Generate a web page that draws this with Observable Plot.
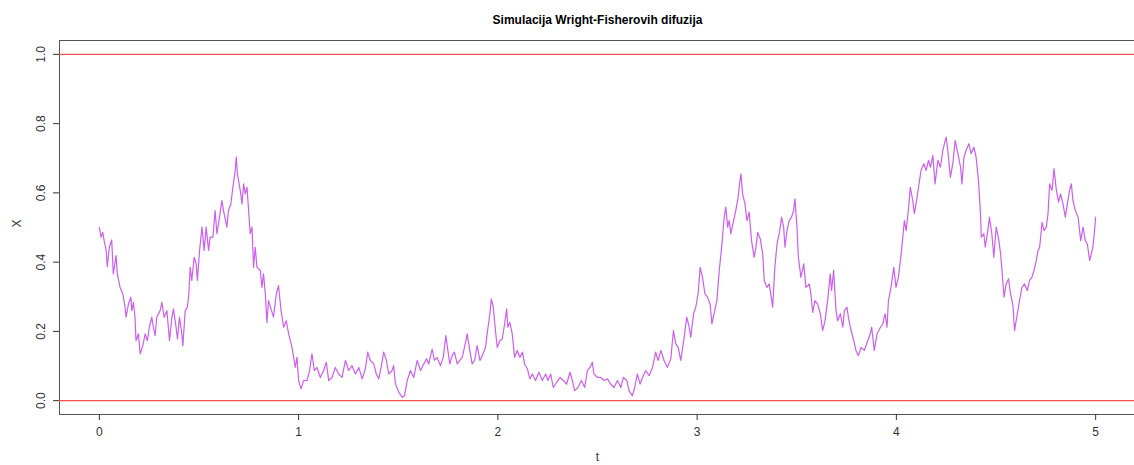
<!DOCTYPE html>
<html><head><meta charset="utf-8">
<script src="https://cdn.jsdelivr.net/npm/d3@7"></script>
<script src="https://cdn.jsdelivr.net/npm/@observablehq/plot@0.6"></script>
<style>body{margin:0;background:#fff} svg{display:block}</style>
</head><body><div id="chart"></div>
<script>
const title = "Simulacija Wright-Fisherovih difuzija";
const xLabel = "t";
const yLabel = "X";
const tTicks = [0, 1, 2, 3, 4, 5];
const xTicks = [0, 0.2, 0.4, 0.6, 0.8, 1.0];
const boundaries = [0, 1];

const tValues = [
0,0.0085,0.017,0.024,0.034,0.040,0.050,0.062,0.070,0.084,0.090,0.104,0.118,0.129,0.134,0.146,0.158,0.163,0.171,0.179,
0.184,0.196,0.205,0.218,0.230,0.241,0.251,0.263,0.271,0.280,0.288,0.305,0.314,0.325,0.339,0.352,0.364,0.372,0.385,0.392,
0.402,0.414,0.419,0.431,0.442,0.449,0.456,0.464,0.476,0.486,0.492,0.503,0.515,0.526,0.536,0.548,0.556,0.570,0.581,0.590,
0.603,0.615,0.623,0.640,0.648,0.660,0.670,0.682,0.687,0.693,0.707,0.716,0.724,0.732,0.741,0.749,0.757,0.766,0.774,0.782,
0.791,0.808,0.816,0.824,0.833,0.841,0.849,0.874,0.888,0.899,0.912,0.925,0.938,0.950,0.967,0.983,0.992,1.000,1.012,1.025,
1.042,1.055,1.067,1.079,1.092,1.109,1.126,1.139,1.151,1.168,1.184,1.201,1.218,1.235,1.251,1.268,1.285,1.302,1.319,1.335,
1.347,1.360,1.377,1.390,1.402,1.414,1.427,1.441,1.452,1.469,1.477,1.486,1.503,1.520,1.531,1.545,1.561,1.578,1.595,1.612,
1.628,1.642,1.653,1.670,1.682,1.695,1.712,1.726,1.739,1.749,1.759,1.771,1.782,1.796,1.809,1.821,1.838,1.846,1.859,1.871,
1.883,1.896,1.910,1.922,1.938,1.947,1.960,1.967,1.977,1.988,1.997,2.010,2.022,2.034,2.044,2.050,2.060,2.072,2.084,2.097,
2.111,2.123,2.134,2.148,2.161,2.173,2.189,2.206,2.223,2.240,2.251,2.265,2.278,2.295,2.312,2.329,2.345,2.362,2.374,2.385,
2.402,2.419,2.436,2.449,2.462,2.474,2.482,2.500,2.516,2.533,2.550,2.566,2.583,2.600,2.617,2.630,2.647,2.658,2.675,2.687,
2.700,2.714,2.726,2.742,2.759,2.776,2.792,2.804,2.818,2.834,2.851,2.868,2.881,2.893,2.905,2.918,2.935,2.948,2.960,2.968,
2.982,2.993,3.005,3.015,3.027,3.039,3.052,3.065,3.074,3.085,3.099,3.111,3.123,3.136,3.144,3.153,3.161,3.169,3.183,3.194,
3.206,3.213,3.220,3.228,3.240,3.250,3.261,3.273,3.286,3.295,3.304,3.317,3.329,3.337,3.350,3.362,3.379,3.390,3.401,3.412,
3.424,3.434,3.441,3.451,3.462,3.474,3.484,3.491,3.501,3.508,3.521,3.535,3.546,3.563,3.571,3.580,3.591,3.605,3.618,3.630,
3.642,3.655,3.668,3.675,3.685,3.697,3.705,3.719,3.731,3.739,3.752,3.759,3.769,3.786,3.797,3.809,3.823,3.839,3.853,3.869,
3.876,3.889,3.903,3.920,3.932,3.943,3.953,3.960,3.973,3.987,3.998,4.010,4.024,4.032,4.040,4.049,4.060,4.070,4.082,4.090,
4.104,4.116,4.124,4.138,4.149,4.161,4.171,4.183,4.194,4.208,4.221,4.233,4.241,4.250,4.258,4.271,4.283,4.295,4.309,4.322,
4.329,4.339,4.350,4.364,4.375,4.389,4.400,4.412,4.422,4.426,4.439,4.446,4.459,4.467,4.479,4.489,4.501,4.513,4.523,4.530,
4.540,4.551,4.563,4.573,4.585,4.593,4.607,4.618,4.630,4.643,4.657,4.668,4.680,4.693,4.702,4.711,4.719,4.731,4.741,4.752,
4.761,4.769,4.781,4.791,4.803,4.814,4.824,4.836,4.848,4.858,4.869,4.878,4.886,4.898,4.912,4.925,4.937,4.948,4.958,4.970,
4.978,4.986,4.993,5.000
];
const xValues = [
0.500,0.472,0.486,0.462,0.434,0.387,0.443,0.464,0.366,0.419,0.367,0.327,0.308,0.270,0.241,0.279,0.299,0.260,0.284,0.241,
0.173,0.193,0.135,0.159,0.193,0.173,0.212,0.241,0.212,0.188,0.241,0.260,0.284,0.241,0.260,0.173,0.241,0.265,0.212,0.178,
0.241,0.193,0.159,0.260,0.270,0.308,0.385,0.347,0.414,0.395,0.347,0.434,0.501,0.434,0.501,0.434,0.472,0.472,0.549,0.482,
0.530,0.578,0.549,0.501,0.549,0.568,0.616,0.665,0.703,0.655,0.607,0.568,0.626,0.597,0.616,0.549,0.482,0.501,0.385,0.443,
0.385,0.376,0.327,0.366,0.308,0.226,0.289,0.241,0.308,0.332,0.260,0.212,0.231,0.193,0.154,0.096,0.125,0.058,0.034,0.058,
0.058,0.087,0.135,0.087,0.096,0.067,0.087,0.111,0.058,0.067,0.096,0.077,0.067,0.116,0.087,0.101,0.077,0.096,0.063,0.092,
0.140,0.116,0.106,0.077,0.063,0.096,0.140,0.116,0.077,0.087,0.101,0.048,0.024,0.010,0.014,0.058,0.087,0.067,0.116,0.087,
0.106,0.121,0.106,0.149,0.116,0.125,0.101,0.125,0.188,0.145,0.106,0.130,0.140,0.106,0.116,0.125,0.168,0.193,0.145,0.106,
0.116,0.159,0.116,0.130,0.154,0.197,0.251,0.294,0.270,0.202,0.154,0.173,0.178,0.222,0.265,0.212,0.226,0.193,0.125,0.145,
0.125,0.140,0.106,0.092,0.063,0.077,0.058,0.082,0.058,0.077,0.058,0.077,0.038,0.053,0.067,0.058,0.048,0.082,0.058,0.029,
0.038,0.058,0.038,0.087,0.096,0.111,0.077,0.067,0.067,0.058,0.063,0.048,0.038,0.058,0.038,0.067,0.058,0.029,0.014,0.038,
0.077,0.048,0.067,0.087,0.072,0.096,0.140,0.116,0.145,0.116,0.096,0.121,0.202,0.164,0.154,0.116,0.183,0.241,0.212,0.183,
0.251,0.270,0.308,0.385,0.356,0.308,0.299,0.279,0.222,0.251,0.289,0.376,0.443,0.530,0.559,0.501,0.520,0.482,0.520,0.549,
0.588,0.626,0.655,0.597,0.568,0.520,0.544,0.462,0.414,0.443,0.486,0.467,0.424,0.347,0.327,0.337,0.270,0.385,0.453,0.482,
0.530,0.501,0.443,0.491,0.520,0.530,0.549,0.583,0.501,0.414,0.356,0.395,0.327,0.337,0.308,0.255,0.289,0.279,0.251,0.202,
0.231,0.289,0.366,0.318,0.376,0.260,0.231,0.251,0.212,0.260,0.270,0.241,0.212,0.173,0.145,0.130,0.154,0.145,0.168,0.193,
0.212,0.145,0.193,0.212,0.222,0.251,0.212,0.289,0.327,0.385,0.327,0.356,0.424,0.472,0.520,0.491,0.549,0.616,0.578,0.540,
0.588,0.636,0.665,0.684,0.665,0.694,0.674,0.708,0.626,0.694,0.674,0.723,0.742,0.761,0.723,0.645,0.684,0.751,0.713,0.674,
0.626,0.703,0.723,0.742,0.713,0.732,0.703,0.636,0.540,0.472,0.482,0.443,0.491,0.530,0.482,0.414,0.501,0.467,0.424,0.376,
0.299,0.337,0.352,0.308,0.275,0.202,0.251,0.289,0.327,0.337,0.318,0.347,0.356,0.381,0.405,0.434,0.443,0.515,0.491,0.501,
0.540,0.626,0.607,0.670,0.607,0.573,0.597,0.568,0.530,0.568,0.607,0.626,0.578,0.549,0.530,0.462,0.501,0.462,0.453,0.405,
0.424,0.443,0.482,0.530
];

const data = tValues.map((t, i) => ({t, X: xValues[i]}));

const chart = Plot.plot({
  width: 1134,
  height: 465,
  marginLeft: 59,
  marginRight: -1,
  marginTop: 40,
  marginBottom: 51,
  style: {fontFamily: "'Liberation Sans', Arial, sans-serif", fontSize: "12px", background: "#fff", color: "#333"},
  x: {domain: [-0.2, 5.2], axis: null},
  y: {domain: [-0.04, 1.04], axis: null},
  marks: [
    Plot.frame({stroke: "#555"}),
    Plot.axisX({ticks: tTicks, tickSize: 6, tickPadding: 7, label: null, tickFormat: d => String(d)}),
    Plot.axisY({ticks: xTicks, tickSize: 6, tickFormat: () => "", label: null}),
    Plot.text(xTicks, {y: d => d, frameAnchor: "left", dx: -18, rotate: -90, text: d => d.toFixed(1), textAnchor: "middle", lineAnchor: "middle"}),
    Plot.line(data, {x: "t", y: "X", stroke: "#cc5ef0", strokeWidth: 1.2}),
    Plot.ruleY(boundaries, {stroke: "#ff4d4d", strokeWidth: 1.2}),
    Plot.text([title], {text: d => d, frameAnchor: "top", dy: -25, fontWeight: "bold", fill: "#000"}),
    Plot.text([yLabel], {text: d => d, frameAnchor: "left", dx: -42, rotate: -90}),
    Plot.text([xLabel], {text: d => d, frameAnchor: "bottom", dy: 46})
  ]
});
document.getElementById("chart").appendChild(chart);
</script>
</body></html>
